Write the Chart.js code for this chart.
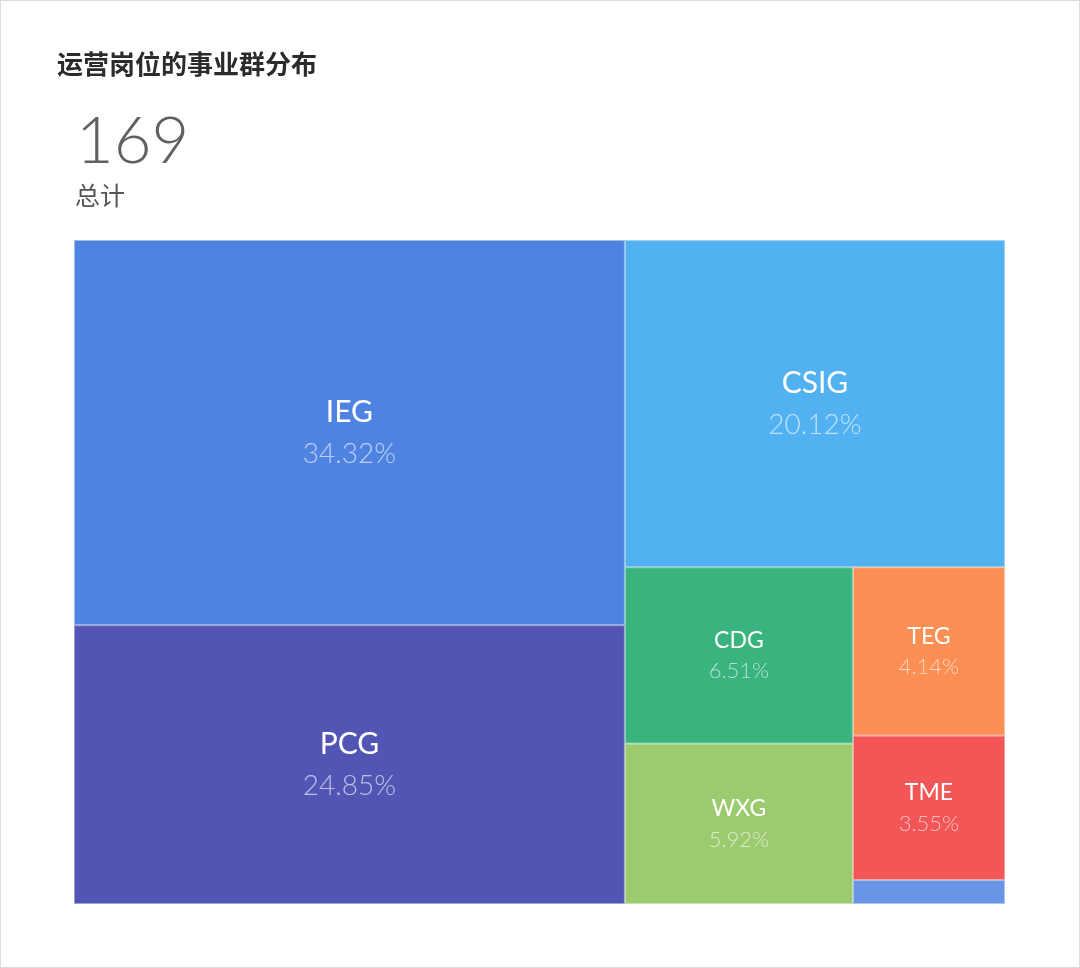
<!DOCTYPE html>
<html lang="zh">
<head>
    <meta charset="UTF-8">
    <title>运营岗位的事业群分布</title>
    <script src="https://cdn.jsdelivr.net/npm/chart.js@4.4.1/dist/chart.umd.min.js"></script>
    <style>
        html, body {
            margin: 0;
            padding: 0;
            background: #fff;
        }
        .frame {
            position: relative;
            width: 1078px;
            height: 966px;
            border: 1px solid #dcdcdc;
            overflow: hidden;
        }
        .title {
            position: absolute;
            left: 56px;
            top: 43px;
            font-family: "Noto Sans CJK SC", sans-serif;
            font-weight: 700;
            font-size: 26px;
            line-height: 38px;
            color: #2b2b2b;
        }
        .total {
            position: absolute;
            left: 75px;
            top: 98px;
            font-family: Lato, "Noto Sans", sans-serif;
            font-weight: 300;
            font-size: 65px;
            color: #606060;
        }
        .total-label {
            position: absolute;
            left: 74px;
            top: 175px;
            font-family: "Noto Sans CJK SC", sans-serif;
            font-size: 25px;
            line-height: 36px;
            color: #555;
        }
        canvas {
            position: absolute;
            left: 0;
            top: 0;
        }
    </style>
</head>
<body>
<div class="frame">
    <canvas id="chart" width="1078" height="966"></canvas>
    <div class="title">运营岗位的事业群分布</div>
    <div class="total" id="total"></div>
    <div class="total-label">总计</div>
</div>

<script>
    // 各事业群人数（按百分比换算，总计 169）
    const groups = ['IEG', 'PCG', 'CSIG', 'CDG', 'WXG', 'TEG', 'TME', '其他'];
    const counts = [58, 42, 34, 11, 10, 7, 6, 1];
    const colors = ['#4f83e1', '#5355b4', '#51b1f1', '#39b47f', '#9ccb6f', '#fc8f54', '#f35656', '#6895e6'];

    const total = counts.reduce((a, b) => a + b, 0);
    document.getElementById('total').textContent = total;

    // squarified treemap, works in pixel sizes so the ratios are right
    function squarify(values, W, H) {
        const areas = values.map(v => v / total * W * H);
        const out = [];
        let r = { x: 0, y: 0, w: W, h: H };
        let row = [];

        function worst(list, side) {
            const s = list.reduce((a, b) => a + b, 0);
            const mx = Math.max(...list), mn = Math.min(...list);
            return Math.max(side * side * mx / (s * s), (s * s) / (side * side * mn));
        }

        function layoutRow(list) {
            const s = list.reduce((a, b) => a + b, 0);
            if (r.w >= r.h) {
                const cw = s / r.h;
                let y = r.y;
                list.forEach(a => { out.push({ x: r.x, y: y, w: cw, h: a / cw }); y += a / cw; });
                r = { x: r.x + cw, y: r.y, w: r.w - cw, h: r.h };
            } else {
                const rh = s / r.w;
                let x = r.x;
                list.forEach(a => { out.push({ x: x, y: r.y, w: a / rh, h: rh }); x += a / rh; });
                r = { x: r.x, y: r.y + rh, w: r.w, h: r.h - rh };
            }
        }

        let k = 0;
        while (k < areas.length) {
            const side = Math.min(r.w, r.h);
            if (row.length === 0 || worst(row.concat(areas[k]), side) <= worst(row, side)) {
                row.push(areas[k]);
                k++;
            } else {
                layoutRow(row);
                row = [];
            }
        }
        if (row.length) layoutRow(row);
        return out;
    }

    const treemapPlugin = {
        id: 'treemap',
        beforeDatasetsDraw(chart) {
            const { ctx, chartArea, scales } = chart;
            const W = chartArea.right - chartArea.left;
            const H = chartArea.bottom - chartArea.top;
            const boxes = squarify(counts, W, H);

            ctx.save();
            boxes.forEach((b, i) => {
                // pixel layout -> data units (0..1) -> back through the scales
                const x0 = scales.x.getPixelForValue(b.x / W);
                const x1 = scales.x.getPixelForValue((b.x + b.w) / W);
                const y0 = scales.y.getPixelForValue(b.y / H);
                const y1 = scales.y.getPixelForValue((b.y + b.h) / H);
                const w = x1 - x0, h = y1 - y0;

                ctx.fillStyle = colors[i];
                ctx.fillRect(x0, y0, w, h);
                ctx.strokeStyle = 'rgba(255,255,255,0.45)';
                ctx.lineWidth = 1;
                ctx.strokeRect(x0 + 0.5, y0 + 0.5, w - 1, h - 1);

                if (w < 60 || h < 50) return;
                const big = Math.min(w, h) > 250;
                const cx = x0 + w / 2, cy = y0 + h / 2;
                const off = big ? 21 : 16;
                ctx.textAlign = 'center';
                ctx.textBaseline = 'middle';
                ctx.fillStyle = '#ffffff';
                ctx.font = (big ? 30 : 23) + 'px Lato, "Noto Sans", sans-serif';
                ctx.fillText(groups[i], cx, cy - off + 1);
                ctx.fillStyle = 'rgba(255,255,255,0.62)';
                ctx.font = '300 ' + (big ? 28 : 22) + 'px Lato, "Noto Sans", sans-serif';
                ctx.fillText((counts[i] / total * 100).toFixed(2) + '%', cx, cy + off);
            });
            ctx.restore();
        }
    };

    new Chart(document.getElementById('chart'), {
        type: 'scatter',
        data: {
            datasets: [{ data: [], pointRadius: 0 }]
        },
        options: {
            responsive: false,
            animation: false,
            layout: {
                padding: { left: 73, right: 74, top: 239, bottom: 63 }
            },
            plugins: {
                legend: { display: false },
                tooltip: { enabled: false }
            },
            scales: {
                x: { type: 'linear', min: 0, max: 1, display: false },
                y: { type: 'linear', min: 0, max: 1, reverse: true, display: false }
            }
        },
        plugins: [treemapPlugin]
    });
</script>
</body>
</html>
